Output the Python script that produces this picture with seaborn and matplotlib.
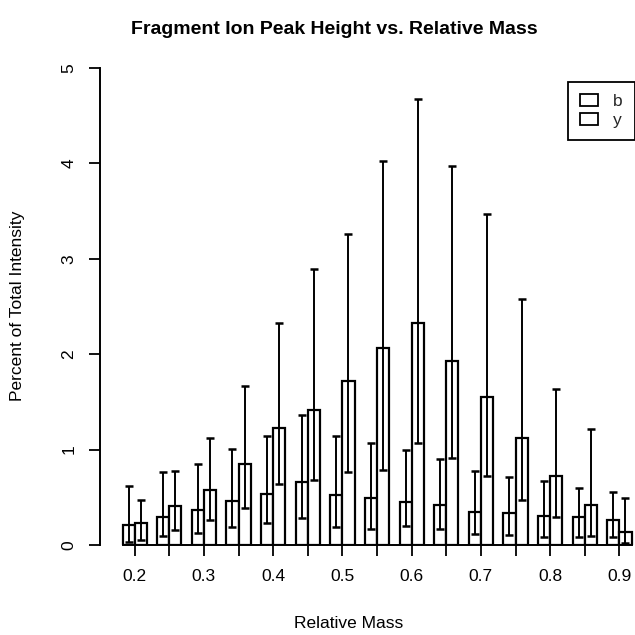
import matplotlib
matplotlib.use('Agg')
import matplotlib.pyplot as plt
import seaborn as sns
import pandas as pd
from matplotlib.patches import Patch

# ---- data ----
mass = ["0.2", "0.25", "0.3", "0.35", "0.4", "0.45", "0.5", "0.55",
        "0.6", "0.65", "0.7", "0.75", "0.8", "0.85", "0.9"]
ions = ["b", "y"]
b_mean = [0.21, 0.29, 0.37, 0.46, 0.53, 0.66, 0.52, 0.49, 0.45, 0.42, 0.35, 0.34, 0.30, 0.29, 0.26]
b_hi = [0.62, 0.76, 0.85, 1.01, 1.14, 1.36, 1.14, 1.07, 1.00, 0.90, 0.78, 0.71, 0.67, 0.60, 0.56]
b_lo = [0.03, 0.09, 0.13, 0.19, 0.23, 0.28, 0.19, 0.17, 0.20, 0.17, 0.12, 0.10, 0.08, 0.08, 0.08]
y_mean = [0.23, 0.41, 0.58, 0.85, 1.23, 1.41, 1.72, 2.06, 2.33, 1.93, 1.55, 1.12, 0.72, 0.42, 0.14]
y_hi = [0.47, 0.78, 1.12, 1.67, 2.33, 2.89, 3.26, 4.03, 4.68, 3.97, 3.47, 2.58, 1.63, 1.22, 0.49]
y_lo = [0.05, 0.16, 0.26, 0.39, 0.64, 0.68, 0.76, 0.79, 1.07, 0.91, 0.72, 0.47, 0.29, 0.09, 0.02]
y_ticks = [0, 1, 2, 3, 4, 5]

title = "Fragment Ion Peak Height vs. Relative Mass"
xlabel = "Relative Mass"
ylabel = "Percent of Total Intensity"

sns.set_theme(style="white")
plt.rcParams['font.family'] = ['Liberation Sans', 'DejaVu Sans']

df = pd.DataFrame({
    "mass": mass * 2,
    "value": b_mean + y_mean,
    "ion": [ions[0]] * len(mass) + [ions[1]] * len(mass),
})

W = H = 635
fig = plt.figure(figsize=(6.35, 6.35), dpi=100)
ax = fig.add_axes([100 / W, 90 / H, 535 / W, 477 / H])

sns.barplot(data=df, x="mass", y="value", hue="ion", order=mass, hue_order=ions,
            palette=["white", "white"], saturation=1, edgecolor="black",
            linewidth=1.6, width=0.7, errorbar=None, legend=False, ax=ax)

for cont, mean, lo, hi in zip(ax.containers, [b_mean, y_mean], [b_lo, y_lo], [b_hi, y_hi]):
    xs = [p.get_x() + p.get_width() / 2 for p in cont]
    yerr = [[m - l for m, l in zip(mean, lo)], [h - m for m, h in zip(mean, hi)]]
    ax.errorbar(xs, mean, yerr=yerr, fmt="none", ecolor="black",
                elinewidth=1.4, capsize=3, capthick=1.8, zorder=3)

ax.set_xlim(-1.0, 14.45)
ax.set_ylim(0, 5)
ax.set_yticks(y_ticks)
ax.set_yticklabels([str(t) for t in y_ticks])
ax.set_xticks(range(len(mass)))
ax.set_xticklabels([m if len(m) == 3 else "" for m in mass])
ax.set_xlabel("")
ax.set_ylabel("")

for s in ["top", "right"]:
    ax.spines[s].set_visible(False)
for s in ["left", "bottom"]:
    ax.spines[s].set_color("black")
    ax.spines[s].set_linewidth(1.4)
ax.spines["left"].set_bounds(0, 5)
ax.spines["bottom"].set_bounds(-0.35, 14.35)

ax.tick_params(axis="both", bottom=True, left=True, length=8, width=1.3,
               color="black", labelsize=12.5, labelcolor="black", direction="out")
ax.tick_params(axis="x", pad=9)
ax.tick_params(axis="y", pad=9)
for lab in ax.get_yticklabels():
    lab.set_rotation(90)
    lab.set_va("center")

fig.text(334 / W, 1 - 30 / H, title, ha="center", va="center",
         fontsize=14, fontweight="bold", color="black")
fig.text(349 / W, 1 - 623 / H, xlabel, ha="center", va="center",
         fontsize=12.5, color="black")
fig.text(18 / W, 1 - 306 / H, ylabel, ha="center", va="center",
         rotation=90, fontsize=12.5, color="black")

handles = [Patch(facecolor="white", edgecolor="black", linewidth=1.3, label=i) for i in ions]
leg = fig.legend(handles=handles, loc="upper left", bbox_to_anchor=(568 / W, 1 - 82 / H),
                 frameon=True, fancybox=False, edgecolor="black", framealpha=1,
                 handlelength=1.0, handleheight=0.7, fontsize=12.5, borderpad=0.7,
                 labelspacing=0.2, handletextpad=0.9, borderaxespad=0)
leg.get_frame().set_linewidth(1.3)

fig.savefig("out.png", dpi=100)
